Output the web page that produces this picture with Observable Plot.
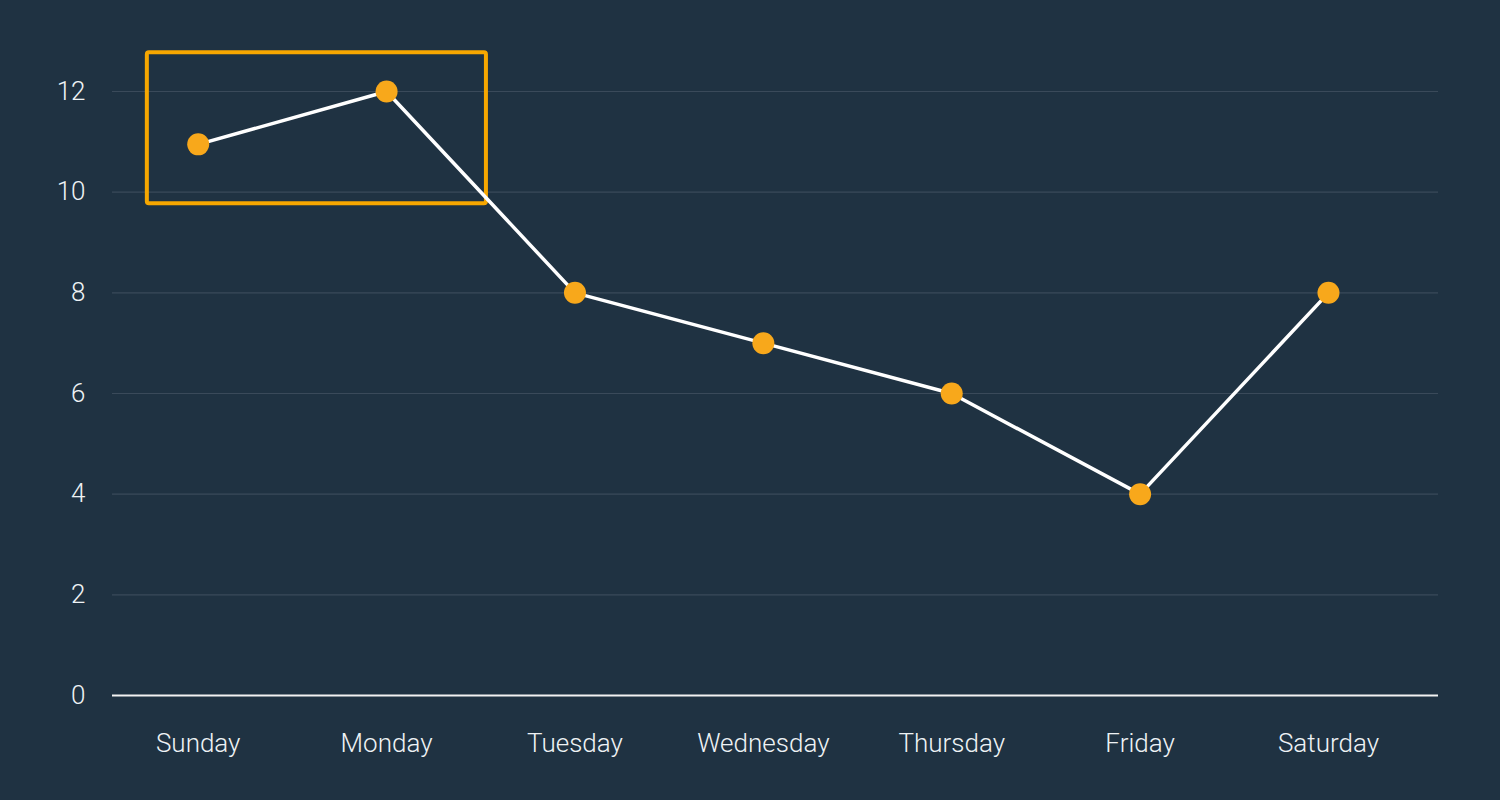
<!DOCTYPE html>
<html>
<head>
<meta charset="utf-8">
<script src="https://cdn.jsdelivr.net/npm/d3@7"></script>
<script src="https://cdn.jsdelivr.net/npm/@observablehq/plot@0.6"></script>
<style>
  html, body { margin: 0; padding: 0; background: #1f3242; }
  #chart { width: 1500px; height: 800px; }
</style>
</head>
<body>
<div id="chart"></div>
<script>
const days = ["Sunday", "Monday", "Tuesday", "Wednesday", "Thursday", "Friday", "Saturday"];
const values = [10.95, 12, 8, 7, 6, 4, 8];
const yTicks = [0, 2, 4, 6, 8, 10, 12];
const gridValues = [2, 4, 6, 8, 10, 12];
// highlight box in data units (day index, value)
const boxX = [-0.27, 1.53];
const boxY = [9.77, 12.77];

const data = days.map((d, i) => ({i, day: d, value: values[i]}));
const box = [{x1: boxX[0], x2: boxX[1], y1: boxY[0], y2: boxY[1]}];

const chart = Plot.plot({
  width: 1500,
  height: 800,
  marginLeft: 112,
  marginRight: 62,
  marginTop: 91,
  marginBottom: 105,
  style: {
    background: "#1f3242",
    color: "#eef2f5",
    fontFamily: "Roboto, 'Open Sans', sans-serif",
    fontSize: "26px",
    fontWeight: 300
  },
  x: {
    type: "linear",
    domain: [-0.455, 6.584],
    ticks: days.map((d, i) => i),
    tickFormat: i => days[i],
    tickSize: 0,
    tickPadding: 38,
    label: null
  },
  y: {
    domain: [0, 12],
    ticks: yTicks,
    tickSize: 0,
    tickPadding: 27,
    label: null
  },
  marks: [
    Plot.ruleY(gridValues, {stroke: "#3a4a5a", strokeWidth: 1.2}),
    Plot.ruleY([0], {stroke: "#f2f2f2", strokeWidth: 2}),
    Plot.rect(box, {x1: "x1", x2: "x2", y1: "y1", y2: "y2", fill: "none", stroke: "#f7a700", strokeWidth: 4, rx: 2}),
    Plot.line(data, {x: "i", y: "value", stroke: "#ffffff", strokeWidth: 3.5}),
    Plot.dot(data, {x: "i", y: "value", r: 11, fill: "#f8a81b", stroke: "none"})
  ]
});
document.getElementById("chart").appendChild(chart);
</script>
</body>
</html>
